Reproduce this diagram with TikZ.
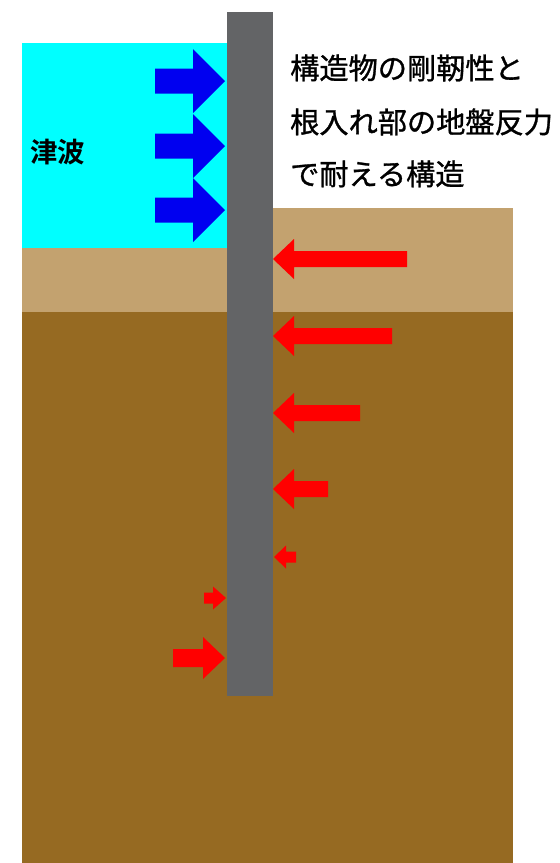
\documentclass[tikz,border=0pt]{standalone}
\usepackage{fontspec}
\setmainfont{Noto Sans CJK JP}
\newfontfamily\jpmedium{Noto Sans CJK JP}[FakeBold=1]
\newfontfamily\jpbold{Noto Sans CJK JP Bold}

\definecolor{water}{RGB}{0,255,255}
\definecolor{sand}{RGB}{195,162,111}
\definecolor{soil}{RGB}{150,106,34}
\definecolor{pile}{RGB}{99,100,102}
\definecolor{wavepush}{RGB}{0,0,240}
\definecolor{reaction}{RGB}{255,0,0}

% block arrow: tip x, tip y, direction (1 right / -1 left), total length,
% head length, head half-width, shaft half-width, colour
\newcommand{\forcearrow}[8]{%
  \begin{scope}[shift={(#1,#2)}, xscale=#3]
    \fill[#8] (0,0) -- (-#5,#6) -- (-#5,#7) -- (-#4,#7) -- (-#4,-#7)
      -- (-#5,-#7) -- (-#5,-#6) -- cycle;
  \end{scope}}

\tikzset{
  caption/.style={anchor=base west, inner sep=0pt, font=\jpmedium\fontsize{29.2}{34}\selectfont},
  wavelabel/.style={anchor=base west, inner sep=0pt, font=\jpbold\fontsize{27.5}{32}\selectfont}
}

\begin{document}
\begin{tikzpicture}[x=1pt, y=-1pt]
  \useasboundingbox (0,0) rectangle (560,863);
  \fill[white] (0,0) rectangle (560,863);

  % ground layers
  \fill[sand] (22,208) rectangle (513,312);
  \fill[soil] (22,312) rectangle (513,863);
  % tsunami water
  \fill[water] (22,43) rectangle (227,248);
  % the wall / pile
  \fill[pile] (227,12) rectangle (273,696);

  % tsunami pressure
  \forcearrow{225}{81}{1}{70}{32}{32}{12.5}{wavepush}
  \forcearrow{225}{146}{1}{70}{32}{32}{12.5}{wavepush}
  \forcearrow{225}{210}{1}{70}{32}{32}{12.5}{wavepush}

  % ground reaction on the landward face
  \forcearrow{273}{259}{-1}{134}{21}{20}{8}{reaction}
  \forcearrow{273}{336}{-1}{119}{21}{20}{8}{reaction}
  \forcearrow{273}{413}{-1}{87}{21}{20}{8}{reaction}
  \forcearrow{273}{489}{-1}{55}{21}{20}{8}{reaction}
  \forcearrow{274}{557}{-1}{22}{12}{11.5}{5.5}{reaction}

  % ground reaction on the seaward face
  \forcearrow{226}{598}{1}{22}{13}{11.5}{5.5}{reaction}
  \forcearrow{225}{658}{1}{52}{22}{21}{9}{reaction}

  % labels
  \node[wavelabel] (tsunami) at (30,162) {津波};
  \node[caption] (line1) at (290,79) {構造物の剛靭性と};
  \node[caption] (line2) at (290,133) {根入れ部の地盤反力};
  \node[caption] (line3) at (290,185) {で耐える構造};
\end{tikzpicture}
\end{document}
